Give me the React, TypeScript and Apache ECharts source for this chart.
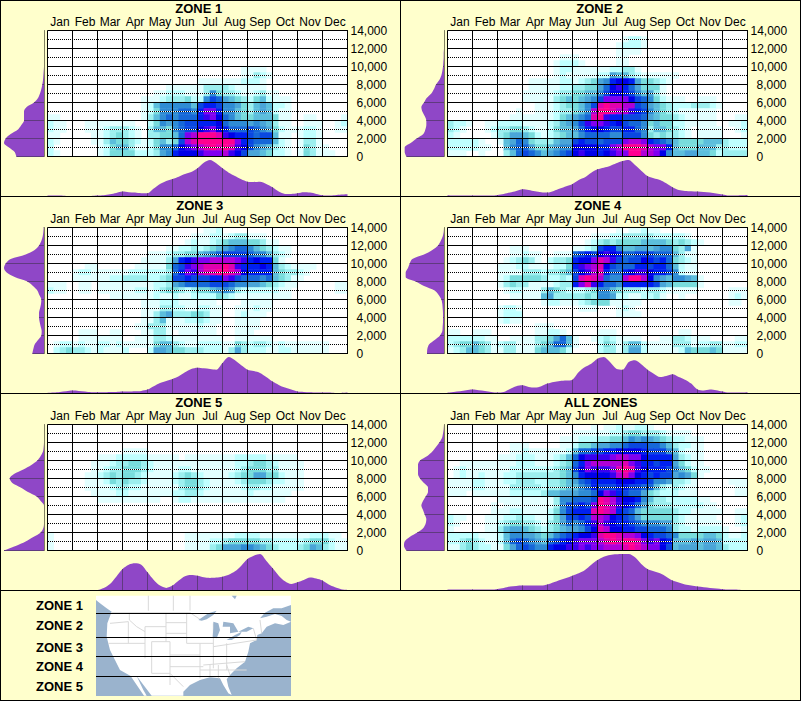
import React, { useEffect, useRef } from "react";
import * as echarts from "echarts";

const months = ["Jan","Feb","Mar","Apr","May","Jun","Jul","Aug","Sep","Oct","Nov","Dec"];
const dottedLevels = [1000,3000,5000,7000,9000,11000,13000];
const zoneNames = ["ZONE 1","ZONE 2","ZONE 3","ZONE 4","ZONE 5","ALL ZONES"];

// Heat levels (base 17), rows top (14,000) to bottom (0), 4 columns per month.
const E = "0000 0000 0000 0000 0000 0000 0000 0000 0000 0000 0000 0000";
const zone1Cells = [E,E,E,E,E,E,
"0000 0000 0000 0000 0000 0000 0000 0001 1110 0000 0000 0000",
"0000 0000 0000 0000 0000 0000 0000 0001 1321 0000 0000 0000",
"0000 0000 0000 0000 0000 0000 1111 1112 2210 0000 0000 0000",
"0000 0000 0000 0000 0001 1111 1333 3211 1110 0000 0000 0000",
"0000 0000 0000 0000 0112 2211 1374 3321 1231 1000 0000 0000",
"0000 0000 0000 0001 1123 3342 2798 6543 2452 1110 0000 0000",
"0000 0000 0000 0001 2577 7775 9aa9 7764 3565 2210 0000 0000",
"0000 0000 0000 0001 2477 7887 adda 7754 3565 2110 0000 0000",
"1100 0000 0000 0001 3578 7888 acdb 8754 4555 4110 0110 0001",
"2110 0011 1111 1100 2476 7899 aaab 8777 6765 3110 0111 0012",
"2110 0011 1233 3210 3554 7899 bcdb a888 9876 4211 1221 0011",
"1100 0001 1234 3210 3344 58de gggf cbaa 9899 5110 1221 0000",
"2100 0001 1354 4321 2453 49ef gggg ggda 9888 5210 1331 0000",
"2000 0000 1245 5311 2477 8bcd efgf gfcb 9765 3210 1431 1000",
"2100 0000 1244 4422 2367 abbb cddd ecb9 6654 2210 1431 1100"];
const zone2Cells = [E,
"0000 0000 0000 0000 0000 0000 0000 1221 0000 0000 0000 0000",
"0000 0000 0000 0000 0000 0000 0001 2221 0000 0000 0000 0000",
"0000 0000 0000 0000 0000 0000 0001 1110 0000 0000 0000 0000",
"0000 0000 0000 0000 0011 1000 0001 1000 0000 0000 0000 0000",
"0000 0000 0000 0000 0122 2100 0001 1000 0000 0000 0000 0000",
"0000 0000 0000 0000 0122 1111 1122 3310 0000 0000 0000 0000",
"0000 0000 0000 0000 0121 1111 2265 5321 1111 1000 0000 0000",
"0000 0000 0000 0111 1122 1234 67ab ba64 4321 0000 0000 0000",
"0000 0000 0000 0111 1122 3344 68bc a864 4410 0000 0000 0000",
"0000 0000 0000 1111 1233 4455 79bb a975 6310 0000 0000 0000",
"0000 0000 0000 1111 1345 4567 9ddd db98 7421 1100 1110 0000",
"0000 0000 0000 0011 1234 4579 fgff ee98 6543 2223 3321 0000",
"0000 0000 0001 0011 1233 457e ggfe eca9 7543 2111 1110 0000",
"0000 0000 0011 1111 1245 678f gcaa 9998 6544 3211 1110 0011",
"3221 0011 2222 1111 2356 79cd dcab 9887 4544 2211 1110 0112",
"3210 0012 3344 3211 2455 68ab ba99 aa87 3554 3210 1111 0012",
"2100 0001 3466 5421 2345 5788 8877 9997 4343 3210 1111 0001",
"2222 2100 1568 7433 3566 9a99 8999 deed a987 5444 4555 3222",
"2222 2110 0578 8644 5677 bbbb aade gggf edda 5444 5553 3222",
"1110 0100 0358 9875 6789 bcbb abcd dgge edb7 5566 5542 3333"];
const zone3Cells = [
"0000 0000 0000 0000 0000 0000 0112 0000 0000 0000 0000 0000",
"0000 0000 0000 0000 0000 0001 1122 1233 1110 0000 0000 0000",
"0000 0000 0000 0000 0000 0012 1123 4555 4431 1000 0000 0000",
"0000 0000 0000 0000 0001 1223 2345 6788 7543 2110 0000 0000",
"0000 0000 0000 0000 1112 3344 5678 9999 8775 3210 0000 0000",
"0000 0000 0000 0001 1113 6abc ddee eedc abaa 4100 0000 0000",
"0000 0011 0000 0011 1114 89cd efff gfca aaba 5321 1110 0000",
"0000 1221 1111 1222 2223 8adc effg gfeb aaaa 5433 2100 0000",
"0000 1111 1122 3333 2234 99a9 99aa dc98 8878 5431 1000 0000",
"1110 0110 1111 1111 1223 6788 8899 9877 6654 3211 0000 0011",
"2110 0110 1111 1122 1234 4323 4456 7632 2222 2110 0000 0011",
"0000 0000 0011 1111 1211 2112 2224 3211 1111 1110 0000 0000",
"0000 0000 0000 0001 1122 2111 1110 0001 1111 0000 0000 0000",
"0000 0000 0000 0001 1133 2211 2211 0011 1211 0000 0000 0000",
"0000 0000 0000 0001 1356 3334 4311 0012 1110 0000 0000 0000",
"0000 0000 0000 0001 1351 1122 3211 0011 1100 0000 0000 0000",
"0000 0000 0000 0011 3331 1111 2110 0011 1100 0000 0000 0000",
"0000 0111 0011 0001 1331 0111 1110 0011 1000 0000 0000 0000",
"0000 0111 1111 0011 1332 1111 1111 0011 1111 0000 0000 0000",
"0122 1211 2212 1111 1455 3211 2222 1143 2332 1211 1111 1000",
"0234 3321 2111 2000 2665 4433 3222 1363 2221 1221 1111 1000"];
const zone4Cells = [
"0000 0000 0000 0000 0000 0000 0001 0112 1100 0000 0000 0000",
"0000 0000 0000 0000 0000 0001 1122 3333 3222 2210 0000 0000",
"0000 0000 0000 0000 0000 0012 3434 4445 5554 3432 1000 0000",
"0000 0000 0011 1000 0000 1123 9aa7 5566 5677 4361 0000 0000",
"0000 0000 0011 2110 0111 89a9 bcba 8899 9888 5311 0000 0000",
"0000 0000 0123 4310 2334 abbd fec9 899b a9a8 4321 0000 0000",
"0000 0000 1112 2111 1224 acde fb98 88aa 9aa8 5211 0000 0000",
"0000 0000 1111 3332 3345 9bce fa88 abcc baa9 7211 0000 0000",
"0000 0000 1244 4443 2232 9fgf e877 egge b765 7765 1000 0000",
"0000 0000 1343 3111 1233 adfc a887 aaaa a965 4444 1000 0000",
"0000 0000 0122 1113 5432 2234 7754 3332 3321 1111 0000 0111",
"0000 0000 0011 1115 6333 3343 7762 2112 2310 0100 0000 0121",
"0000 0000 0000 0001 2211 1234 4411 1110 0000 0000 0000 0110",
"0000 0000 1221 0000 0000 0111 0001 2100 0000 0000 0000 0000",
"0000 0000 1222 0000 0000 0000 0001 1110 0000 0000 0000 0000",
"0000 0000 1211 0000 0000 0000 0000 0000 0000 0000 0000 0000",
"0000 0000 0000 0011 1000 0000 0000 0000 0000 0000 0000 0000",
"1100 1110 0000 0011 2210 0000 1110 0000 0000 0110 0000 0000",
"2222 2211 0011 1133 4685 1001 2321 1110 0011 3321 1100 0011",
"2344 5431 2331 1134 5885 1000 2431 3552 1111 3331 2233 1122",
"1235 5431 1331 1145 5542 0000 2331 3662 1111 1254 4454 1111"];
const zone5Cells = [E,E,E,E,
"0000 0000 0000 1111 0000 0000 0000 0000 0000 0000 0000 0000",
"0000 0000 1112 2222 1111 1011 1111 1122 2221 1111 0000 0000",
"0000 0001 1123 3443 2111 1111 1111 1122 3443 2111 1000 0000",
"0000 0001 1233 4443 2111 1221 1111 1123 4443 3111 1000 0000",
"0000 0011 2343 4432 1111 2343 2111 1234 4664 4211 1000 0000",
"0000 0011 1243 4332 1111 2344 3211 1123 4443 2211 1000 0000",
"0000 0011 1123 3221 1111 1344 3211 1112 3322 1111 1000 0000",
"0000 0001 1112 2111 1111 2233 2111 1111 2111 1110 0000 0000",
"0000 0000 1111 1111 1100 1221 1111 1111 1111 1100 0000 0000",
E,E,E,E,E,
"1000 0000 0000 0000 0000 0011 1111 1122 2211 1111 1122 2110",
"1000 0000 0000 0000 0000 0011 1122 3444 4433 2222 2344 4211",
"1000 0000 0000 0000 0000 0011 1134 6667 7654 3222 3465 3211"];
const allZonesCells = [
"0000 0000 0000 0000 0000 0001 0112 1122 1000 0000 0000 0000",
"0000 0000 0000 0000 0000 1111 1122 3443 3321 1110 0000 0000",
"0000 0000 0000 0000 0011 1222 3344 5767 6543 2211 1000 0000",
"0000 0000 0011 1000 0011 2445 6677 8999 8875 3221 1000 0000",
"0000 0000 0011 2111 1112 5889 9aab bbba 9997 5211 1000 0000",
"0000 0000 1112 2211 1235 8bcc ccde eddb aaaa 6321 1000 0000",
"0011 1111 1112 2211 1234 8ade eeee fdca a9aa 6421 1000 0000",
"0121 1111 1122 2222 2345 9bdc ccdf gfcb aaa9 7542 1100 0000",
"0121 1211 1223 3333 3345 7abb bbce fdba 9a99 6764 1000 0000",
"1111 2211 1223 3322 3345 689a aaab bbaa 9776 3321 0000 0111",
"1111 2211 1133 3332 3345 578a 999a a998 8532 3211 0000 0011",
"1110 1111 1122 2223 5566 6778 bdca 9886 4322 2111 0000 0011",
"0000 0000 1111 1111 1377 8889 gfec bba7 5332 2222 1100 0000",
"0000 0001 0111 1111 1379 9a9d gfec ba86 4333 2222 2110 0000",
"0000 0001 1122 1111 2479 aaaf gfea 9854 4444 3221 1111 0011",
"2110 0011 1223 2211 2469 9a9e edba 9864 4444 3211 1110 0012",
"2100 0011 2344 3321 3468 78ac ecba a987 7766 3211 1111 0012",
"1000 0011 3566 5432 3456 679b febb aa99 8887 3221 2222 1001",
"2222 2111 2577 6654 5789 abbc fggf eedb a998 7444 4554 2112",
"2234 3211 2589 8765 89ab cddd efgf ggfd cdba 5556 5665 2222",
"1134 3221 1468 9877 abbc cdcd deee fgfe ddb9 5666 5665 3222"];

// Month density, one value per quarter month (Jan 1 to Dec 31).
const zone1Month = [3,3,3,2,2,2,2,2,3,4,7,11,15,13,12,10,10,24,38,47,53,60,68,74,85,102,110,100,85,72,62,52,45,44,45,38,28,15,8,8,10,13,12,8,4,3,4,6,7];
const zone2Month = [4,3,3,3,3,3,3,3,5,8,12,17,22,20,16,13,12,17,24,31,38,50,58,72,82,87,92,100,107,110,95,78,62,55,50,40,28,20,17,16,15,14,12,9,6,3,3,4,5];
const zone3Month = [2,3,5,7,9,8,6,4,4,4,5,5,6,6,7,8,12,22,32,38,44,52,64,74,78,76,74,72,92,110,100,85,72,68,62,50,36,26,18,12,6,5,4,3,3,3,2,2,3];
const zone4Month = [3,5,7,10,12,10,8,5,3,5,14,22,25,20,18,22,30,35,38,39,42,65,80,90,105,110,95,75,72,95,100,88,72,60,50,53,58,50,42,30,12,9,12,10,6,3,3,3,4];
const zone5Month = [1,1,1,1,1,1,1,1,2,8,20,42,65,78,82,78,55,32,15,8,15,30,43,47,45,40,38,39,42,48,58,75,95,105,110,90,68,45,28,20,25,32,39,36,30,18,10,4,2];
const allZonesMonth = [3,3,3,3,3,3,3,3,5,8,12,14,15,15,15,15,18,25,32,38,45,52,62,78,92,102,107,109,110,110,100,80,65,58,52,42,30,24,18,15,12,10,8,6,4,3,3,2,2];

// Altitude density, one value per 500 ft from 0 to 14,000.
const zone1Alt = [83,88,105,120,115,100,78,68,60,60,60,52,30,18,12,8,5,3,2,1,0,0,0,0,0,0,0,0,0];
const zone2Alt = [113,118,118,100,82,62,56,53,53,58,65,68,60,52,38,30,24,14,8,5,3,2,1,1,0,0,0,0,0];
const zone3Alt = [35,32,28,18,8,7,10,13,15,15,12,9,8,14,20,33,50,88,112,120,115,100,55,28,15,8,4,2,1];
const zone4Alt = [51,50,45,28,12,5,4,3,3,3,4,5,8,16,28,60,85,115,115,108,103,95,60,35,18,10,4,1,0];
const zone5Alt = [120,85,55,32,10,2,0,0,0,0,0,10,22,48,70,95,103,90,62,38,20,10,3,1,0,0,0,0,0];
const allZonesAlt = [113,120,118,103,80,62,55,53,58,63,68,63,55,48,48,60,72,78,78,78,72,50,35,24,14,6,3,1,0];

const panelCells = [zone1Cells,zone2Cells,zone3Cells,zone4Cells,zone5Cells,allZonesCells];
const panelMonth = [zone1Month,zone2Month,zone3Month,zone4Month,zone5Month,allZonesMonth];
const panelAlt = [zone1Alt,zone2Alt,zone3Alt,zone4Alt,zone5Alt,allZonesAlt];

const heatColors = ["#FFFFFF","#E2FFFF","#BFFFFF","#9CEFEF","#78DCDC","#5CBEDC","#4AA5D8","#2F8CD5","#1668D8","#0A48E0","#0020F0","#0000E8","#3A00F0","#8000F0","#B000D8","#E000B0","#FF0090"];
const BG = "#FFFFCC";
const PURPLE = "#8F47C7";
const TICK = "#5F3A7F";
const FONT = "'Liberation Sans', Arial, sans-serif";

// Map legend outline, in a 3x frame whose origin is page (0,590).
const mapLand = [[288,17],[873,17],[873,45],[845,55],[820,55],[795,68],[780,85],[800,80],[825,72],[845,78],[860,90],[873,95],[850,105],[825,100],[800,110],[785,130],[772,135],[770,150],[750,160],[745,185],[735,215],[710,235],[690,255],[680,268],[685,290],[695,315],[685,310],[670,285],[660,265],[630,262],[600,270],[570,285],[550,305],[550,317],[455,317],[410,258],[430,300],[440,317],[432,317],[400,270],[392,258],[360,240],[345,210],[330,180],[320,140],[322,100],[335,65],[320,55],[300,40],[288,30]];
const mapLakes = [
  [[595,90],[625,70],[650,62],[640,75],[620,88],[605,92]],
  [[640,95],[655,100],[660,120],[650,145],[638,140],[640,115]],
  [[670,95],[700,100],[715,125],[690,130],[690,110],[668,110]],
  [[680,150],[705,135],[725,125],[720,135],[695,150]],
  [[715,125],[745,110],[760,115],[740,125]],
  [[695,17],[710,17],[705,28]],
];
const mapBorders = [
  [[335,68],[570,68],[600,88]],[[445,17],[445,62]],[[520,17],[520,62]],[[570,17],[570,62]],
  [[388,68],[388,90],[410,110],[435,125]],[[498,68],[498,155]],[[435,110],[498,110]],[[435,110],[435,205]],
  [[455,155],[510,155],[510,200]],[[455,155],[455,250]],[[330,100],[385,95],[385,160]],[[325,160],[435,160]],
  [[560,68],[560,160]],[[498,98],[560,98]],[[498,130],[560,130]],[[510,195],[600,195]],[[510,230],[610,230]],
  [[600,160],[600,265]],[[640,100],[640,235]],[[610,225],[735,215]],[[680,160],[680,240]],[[600,240],[740,240]],
  [[630,225],[630,262]],[[655,225],[655,265]],[[680,225],[690,255]],[[560,160],[640,160]],[[640,170],[770,150]],
  [[760,115],[770,150]],[[780,90],[785,130]],[[510,200],[510,285]],[[455,250],[510,250],[550,290]],
];
const zoneLabelY = [605,625,647,666,686];
const zoneLineY = [613.5,637.5,656.5,676.5];

const colX = [47.5,447.5];
const rowY = [30.5,227.5,424.5];
const densTop = [160,357,554];
const densBase = [196.6,393.6,590.6];
const titleX = [198.8,599.7,199.7,597.8,198.8,600.8];

function buildOption() {
  const grid: any[] = [], xAxis: any[] = [], yAxis: any[] = [], series: any[] = [], title: any[] = [];
  const graphic:any[] = [];
  const heatIdx: number[] = [];
  const xCols = Array.from({length:48},(_,i)=>String(i));
  const yRows = Array.from({length:21},(_,i)=>String(i));
  const altCats = panelAlt[0].map((_,i)=>String(i*500));
  const monthCats = panelMonth[0].map((_,i)=>String(i));

  panelCells.forEach((rows,p)=>{
    const c = p%2, r = Math.floor(p/2), L = colX[c], T = rowY[r];
    title.push({text:zoneNames[p],left:titleX[p],top:T-28.5,padding:0,textAlign:"center",textStyle:{fontFamily:FONT,fontSize:13,fontWeight:"bold",color:"#000",lineHeight:13}});
    const g0 = grid.length;
    grid.push({left:L,top:T,width:300,height:126,show:true,backgroundColor:"#fff",borderWidth:0});
    grid.push({left:L,top:T,width:300,height:126});
    grid.push({left:L-43.5,top:T,width:40,height:126});
    grid.push({left:L,top:densTop[r],width:300,height:densBase[r]-densTop[r]});

    const x0 = xAxis.length, y0 = yAxis.length;
    xAxis.push({type:"category",gridIndex:g0,data:xCols,show:false});
    yAxis.push({type:"category",gridIndex:g0,data:yRows,show:false});
    const cells:any[] = [];
    rows.forEach((row,ri)=>{
      const s = row.replace(/ /g,"").padEnd(48,"0");
      for(let i=0;i<48;i++){ const v=parseInt(s[i],17); if(v>0) cells.push([i,20-ri,v]); }
    });
    heatIdx.push(series.length);
    series.push({type:"heatmap",xAxisIndex:x0,yAxisIndex:y0,data:cells,z:2,silent:true,itemStyle:{borderWidth:0}});

    // overlay with the ruled lines and labels
    const xv = xAxis.length, yv = yAxis.length;
    const blackLine = {show:true,lineStyle:{color:"#000",width:1,type:"solid"}};
    xAxis.push({type:"value",gridIndex:g0+1,min:0,max:12,interval:1,position:"bottom",z:7,axisLabel:{show:false},axisTick:{show:false},axisLine:{show:true,onZero:false,lineStyle:{color:"#000",width:1}},splitLine:blackLine});
    xAxis.push({type:"category",gridIndex:g0+1,position:"top",data:months,z:7,axisTick:{show:false},axisLine:{show:false},splitLine:{show:false},axisLabel:{interval:0,margin:3,color:"#000",fontFamily:FONT,fontSize:12}});
    yAxis.push({type:"value",gridIndex:g0+1,min:0,max:14000,interval:2000,position:"right",z:7,axisTick:{show:false},axisLine:{show:true,onZero:false,lineStyle:{color:"#000",width:1}},splitLine:blackLine,
      axisLabel:{margin:3,align:"left",formatter:(v:number)=>{
        const t=v.toLocaleString("en-US"); return v>=10000?`{w|${t}}`:`{n|${t}}`;},
        rich:{w:{color:"#000",fontFamily:FONT,fontSize:12},n:{color:"#000",fontFamily:FONT,fontSize:12,padding:[0,0,0,6]}}}});
    const dots:any[] = [];
    dottedLevels.forEach(v=>{dots.push([0,v],[12,v],[null,null]);});
    series.push({type:"line",xAxisIndex:xv,yAxisIndex:yv,data:dots,showSymbol:false,connectNulls:false,silent:true,clip:false,z:3,lineStyle:{color:"#fff",width:1,type:"solid"}});
    dottedLevels.forEach(v=>{
      const y = T + 126*(1 - v/14000);
      graphic.push({type:"line",silent:true,z:5,shape:{x1:L+0.5,y1:y,x2:L+299.5,y2:y},style:{stroke:"#000",lineWidth:1,lineDash:[1,1]}});
    });

    // altitude density on the left
    const xl = xAxis.length, yl = yAxis.length;
    xAxis.push({type:"value",gridIndex:g0+2,min:0,max:120,inverse:true,show:false});
    yAxis.push({type:"category",gridIndex:g0+2,boundaryGap:false,data:altCats,axisLabel:{show:false},axisTick:{show:false},splitLine:{show:false},axisLine:{show:true,lineStyle:{color:"#808060",width:1}}});
    const alt = panelAlt[p];
    series.push({type:"line",xAxisIndex:xl,yAxisIndex:yl,data:alt,showSymbol:false,smooth:0.3,silent:true,z:2,lineStyle:{width:0},areaStyle:{color:PURPLE,opacity:1}});
    series.push({type:"bar",xAxisIndex:xl,yAxisIndex:yl,data:alt.map((v,i)=>(i%4===0?v:null)),barWidth:1,silent:true,z:3,itemStyle:{color:TICK}});

    // month density along the bottom
    const xm = xAxis.length, ym = yAxis.length;
    xAxis.push({type:"category",gridIndex:g0+3,boundaryGap:false,data:monthCats,axisLabel:{show:false},axisTick:{show:false},splitLine:{show:false},axisLine:{show:true,lineStyle:{color:"#6A6A50",width:1}}});
    yAxis.push({type:"value",gridIndex:g0+3,min:0,max:110,show:false});
    const mon = panelMonth[p];
    series.push({type:"line",xAxisIndex:xm,yAxisIndex:ym,data:mon,showSymbol:false,smooth:0.3,silent:true,z:2,lineStyle:{width:0},areaStyle:{color:PURPLE,opacity:1}});
    series.push({type:"bar",xAxisIndex:xm,yAxisIndex:ym,data:mon.map((v,i)=>(i%4===0&&i>0&&i<48?v:null)),barWidth:1,silent:true,z:3,itemStyle:{color:TICK}});
  });

  const px = (pts:number[][]) => pts.map(([x,y])=>[x/3,590+y/3]);
  const line = (x1:number,y1:number,x2:number,y2:number,color="#000") => ({type:"line",silent:true,z:10,shape:{x1,y1,x2,y2},style:{stroke:color,lineWidth:1}});
  graphic.push(line(0.5,0,0.5,701),line(800.5,0,800.5,701),line(0,0.5,801,0.5),line(0,700.5,801,700.5),
    line(400.5,0,400.5,591),line(0,196.5,801,196.5),line(0,393.5,801,393.5),line(0,590.5,801,590.5));
  graphic.push({type:"rect",silent:true,shape:{x:96,y:596,width:195,height:100},style:{fill:"#9AB3CD"}});
  graphic.push({type:"polygon",silent:true,shape:{points:px(mapLand)},style:{fill:"#fff"}});
  mapBorders.forEach(b=>graphic.push({type:"polyline",silent:true,shape:{points:px(b)},style:{stroke:"#D9D9D9",lineWidth:1,fill:null}}));
  mapLakes.forEach(l=>graphic.push({type:"polygon",silent:true,shape:{points:px(l)},style:{fill:"#9AB3CD"}}));
  zoneLineY.forEach(y=>graphic.push(line(96,y,291,y)));
  zoneLabelY.forEach((y,i)=>graphic.push({type:"text",silent:true,x:36,y,style:{text:`ZONE ${i+1}`,font:`bold 13px ${FONT}`,fill:"#000",textVerticalAlign:"middle"}}));

  return {
    animation:false,backgroundColor:BG,title,grid,xAxis,yAxis,series,graphic,
    visualMap:{show:false,type:"continuous",min:0,max:16,dimension:2,seriesIndex:heatIdx,inRange:{color:heatColors}},
  };
}

export default function App(){
  const ref = useRef<HTMLDivElement>(null);
  useEffect(()=>{
    const chart = echarts.init(ref.current!,undefined,{renderer:"svg"});
    chart.setOption(buildOption() as any);
    return ()=>chart.dispose();
  },[]);
  return <div ref={ref} style={{position:"absolute",left:0,top:0,width:801,height:701}}/>;
}
